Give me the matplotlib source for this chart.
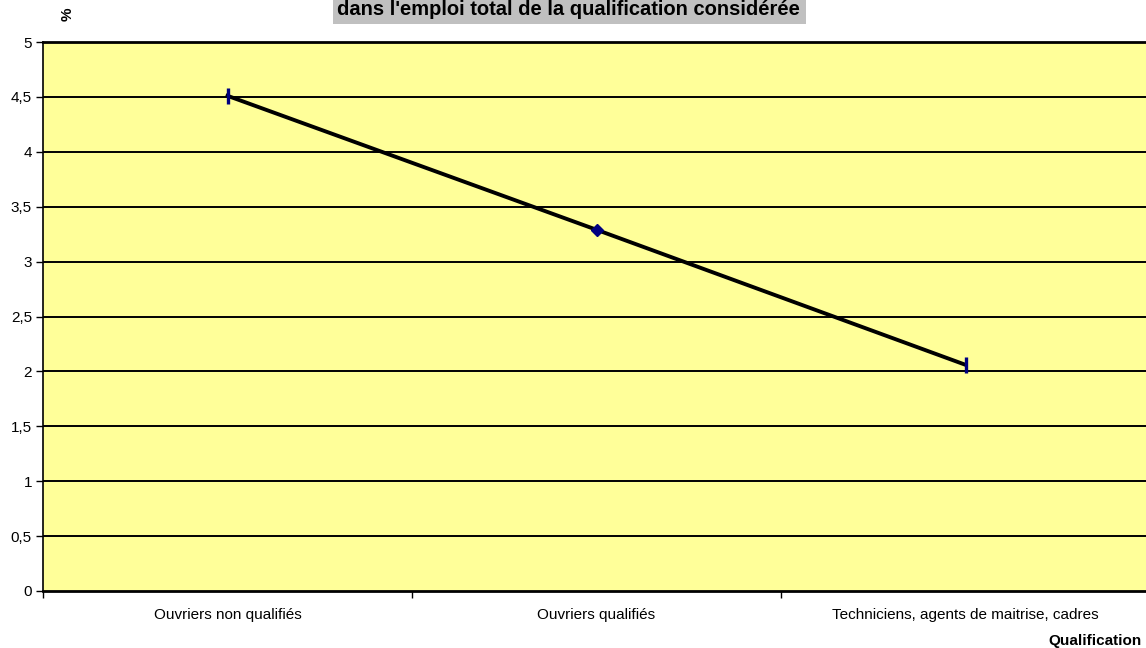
import matplotlib
matplotlib.use("Agg")
import matplotlib.pyplot as plt
from matplotlib.patches import Rectangle
import numpy as np

categories = ["Ouvriers non qualifiés", "Ouvriers qualifiés", "Techniciens, agents de maitrise, cadres"]
values = [4.51, 3.29, 2.06]
markers = ["|", "D", "|"]
y_ticks = [0, 0.5, 1, 1.5, 2, 2.5, 3, 3.5, 4, 4.5, 5]
y_labels = ["0", "0,5", "1", "1,5", "2", "2,5", "3", "3,5", "4", "4,5", "5"]
title_line = "dans l'emploi total de la qualification considérée"

plt.rcParams["font.family"] = ["Liberation Sans", "DejaVu Sans"]

W, H = 1146, 648
fig = plt.figure(figsize=(W / 100, H / 100), dpi=100)
ax = fig.add_axes([43 / W, 1 - 591 / H, 1107 / W, 549 / H])
ax.set_facecolor("#FFFF99")

x = np.arange(len(categories))
ax.set_xlim(-0.5, len(categories) - 0.5)
ax.set_ylim(0, 5)

for t in y_ticks[1:]:
    ax.axhline(t, color="black", lw=1.4, zorder=1)

ax.plot(x, values, color="black", lw=2.8, zorder=3)
for xi, yi, m in zip(x, values, markers):
    if m == "|":
        ax.plot(xi, yi, marker="|", ms=11, mew=2.4, color="#000080", zorder=4)
    else:
        ax.plot(xi, yi, marker="D", ms=6.5, color="#000080", zorder=4)

ax.set_yticks(y_ticks)
ax.set_yticklabels(y_labels, fontsize=11)
ax.set_xticks(x)
ax.set_xticklabels(categories, fontsize=11)
ax.set_xticks(np.arange(-0.5, len(categories)), minor=True)
ax.tick_params(axis="x", which="major", length=0, pad=12.5)
ax.tick_params(axis="x", which="minor", length=5, width=1, direction="out")
ax.tick_params(axis="y", length=5, width=1, direction="out", pad=3)

ax.spines["right"].set_visible(False)
ax.spines["left"].set_linewidth(1.2)
ax.spines["bottom"].set_linewidth(2)
ax.spines["top"].set_linewidth(2)

# title band (first line falls outside the canvas)
fig.patches.append(Rectangle((333 / W, 1 - 24 / H), 473 / W, 24 / H,
                             transform=fig.transFigure, facecolor="#C0C0C0",
                             edgecolor="none", zorder=0))
fig.text(568 / W, 1 - 15 / H, title_line, ha="center", va="baseline",
         fontsize=14.5, fontweight="bold")
fig.text(68 / W, 1 - 14 / H, "%", rotation=90, ha="center", va="center",
         fontsize=11, fontweight="bold")
fig.text(1142 / W, 1 - 641 / H, "Qualification", ha="right", va="center",
         fontsize=11, fontweight="bold")

fig.savefig("out.png", dpi=100)
